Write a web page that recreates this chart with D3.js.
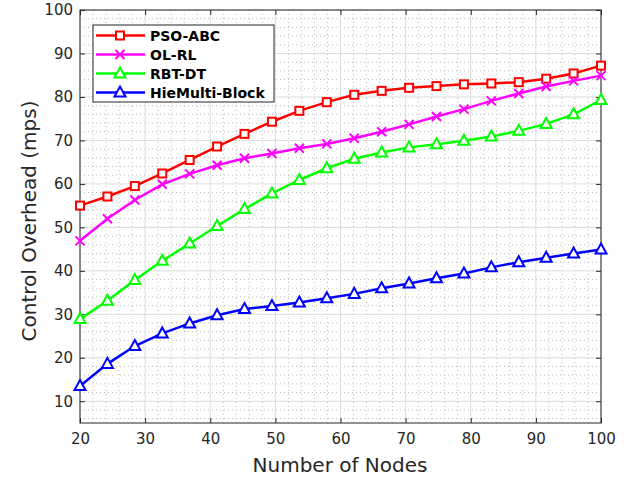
<!DOCTYPE html>
<html>
<head>
<meta charset="utf-8">
<script src="https://cdn.jsdelivr.net/npm/d3@7/dist/d3.min.js"></script>
<style>
  html, body { margin: 0; padding: 0; background: #fff; }
  svg { display: block; font-family: "DejaVu Sans", sans-serif; }
</style>
</head>
<body>
<svg id="chart" width="630" height="479"></svg>
<script>
// Number of nodes (20 evenly spaced samples from 20 to 100)
const nodes = [20, 24.21, 28.42, 32.63, 36.84, 41.05, 45.26, 49.47, 53.68, 57.89,
               62.11, 66.32, 70.53, 74.74, 78.95, 83.16, 87.37, 91.58, 95.79, 100];

// Control overhead (mps) per method
const psoAbc = [55.0, 57.1, 59.5, 62.4, 65.5, 68.6, 71.5, 74.3, 76.8, 78.8,
                80.5, 81.4, 82.1, 82.5, 82.9, 83.1, 83.4, 84.2, 85.4, 87.2];
const olRl   = [46.9, 52.0, 56.3, 59.9, 62.3, 64.3, 65.9, 67.0, 68.2, 69.2,
                70.5, 72.0, 73.7, 75.5, 77.2, 79.1, 80.8, 82.4, 83.7, 84.9];
const rbtDt  = [28.9, 33.1, 37.9, 42.3, 46.3, 50.3, 54.2, 57.8, 60.9, 63.6,
                65.8, 67.2, 68.4, 69.1, 69.9, 70.9, 72.2, 73.8, 76.0, 79.3];
const hieMultiBlock = [13.5, 18.6, 22.7, 25.6, 27.9, 29.8, 31.2, 31.9, 32.7, 33.7,
                       34.7, 36.0, 37.1, 38.3, 39.4, 40.8, 42.0, 43.0, 44.0, 44.9];

const xTicks = [20, 30, 40, 50, 60, 70, 80, 90, 100];
const yTicks = [10, 20, 30, 40, 50, 60, 70, 80, 90, 100];

const series = [
  { name: "PSO-ABC",        values: psoAbc,        color: "#ff0000", marker: "square" },
  { name: "OL-RL",          values: olRl,          color: "#ff00ff", marker: "cross" },
  { name: "RBT-DT",         values: rbtDt,         color: "#00ff00", marker: "triangle" },
  { name: "HieMulti-Block", values: hieMultiBlock, color: "#0000ff", marker: "triangle" }
];

const svg = d3.select("#chart");
const plot = { left: 80, right: 601, top: 10, bottom: 423 };
const axisColor = "#262626";

const x = d3.scaleLinear().domain([20, 100]).range([plot.left, plot.right]);
const y = d3.scaleLinear().domain([5, 100]).range([plot.bottom, plot.top]);

// Minor grid (dotted), every 2 units
const g = svg.append("g");
const minorX = d3.range(22, 100, 2).filter(v => v % 10 !== 0);
const minorY = d3.range(6, 100, 2).filter(v => v % 10 !== 0);
g.selectAll(".mx").data(minorX).enter().append("line")
  .attr("x1", d => x(d)).attr("x2", d => x(d))
  .attr("y1", plot.top).attr("y2", plot.bottom)
  .attr("stroke", "#bdbdbd").attr("stroke-width", 1).attr("stroke-dasharray", "1,3");
g.selectAll(".my").data(minorY).enter().append("line")
  .attr("x1", plot.left).attr("x2", plot.right)
  .attr("y1", d => y(d)).attr("y2", d => y(d))
  .attr("stroke", "#bdbdbd").attr("stroke-width", 1).attr("stroke-dasharray", "1,3");

// Major grid
g.selectAll(".gx").data(xTicks).enter().append("line")
  .attr("x1", d => x(d)).attr("x2", d => x(d))
  .attr("y1", plot.top).attr("y2", plot.bottom)
  .attr("stroke", "#dcdcdc").attr("stroke-width", 1);
g.selectAll(".gy").data(yTicks).enter().append("line")
  .attr("x1", plot.left).attr("x2", plot.right)
  .attr("y1", d => y(d)).attr("y2", d => y(d))
  .attr("stroke", "#dcdcdc").attr("stroke-width", 1);

// Axes with inward ticks on all four sides
const tickLen = 5;
const bottomAxis = d3.axisBottom(x).tickValues(xTicks).tickSizeInner(-tickLen).tickSizeOuter(0).tickPadding(10);
const leftAxis = d3.axisLeft(y).tickValues(yTicks).tickSizeInner(-tickLen).tickSizeOuter(0).tickPadding(7);
const topAxis = d3.axisTop(x).tickValues(xTicks).tickSizeInner(-tickLen).tickSizeOuter(0).tickFormat("");
const rightAxis = d3.axisRight(y).tickValues(yTicks).tickSizeInner(-tickLen).tickSizeOuter(0).tickFormat("");

function styleAxis(sel) {
  sel.select(".domain").remove();
  sel.selectAll("line").attr("stroke", axisColor);
  sel.selectAll("text").attr("fill", axisColor).style("font-size", "15px")
     .style("font-family", "'DejaVu Sans', sans-serif");
}
svg.append("g").attr("transform", `translate(0,${plot.bottom})`).call(bottomAxis).call(styleAxis);
svg.append("g").attr("transform", `translate(${plot.left},0)`).call(leftAxis).call(styleAxis);
svg.append("g").attr("transform", `translate(0,${plot.top})`).call(topAxis).call(styleAxis);
svg.append("g").attr("transform", `translate(${plot.right},0)`).call(rightAxis).call(styleAxis);

// Plot frame
svg.append("rect")
  .attr("x", plot.left).attr("y", plot.top)
  .attr("width", plot.right - plot.left).attr("height", plot.bottom - plot.top)
  .attr("fill", "none").attr("stroke", axisColor).attr("stroke-width", 1);

// Marker drawing
function drawMarker(sel, type, color) {
  if (type === "square") {
    sel.append("rect").attr("x", -4).attr("y", -4).attr("width", 8).attr("height", 8)
      .attr("fill", "#fff").attr("stroke", color).attr("stroke-width", 2);
  } else if (type === "cross") {
    sel.append("path").attr("d", "M-4.5,-4.5L4.5,4.5M-4.5,4.5L4.5,-4.5")
      .attr("fill", "none").attr("stroke", color).attr("stroke-width", 2);
  } else {
    sel.append("path").attr("d", "M0,-6L5.5,4L-5.5,4Z")
      .attr("fill", "#fff").attr("stroke", color).attr("stroke-width", 2)
      .attr("stroke-linejoin", "miter");
  }
}

const line = d3.line().x((d, i) => x(nodes[i])).y(d => y(d));

series.forEach(s => {
  svg.append("path").datum(s.values)
    .attr("d", line)
    .attr("fill", "none").attr("stroke", s.color).attr("stroke-width", 2.5);
  s.values.forEach((v, i) => {
    const m = svg.append("g").attr("transform", `translate(${x(nodes[i])},${y(v)})`);
    drawMarker(m, s.marker, s.color);
  });
});

// Legend
const legend = svg.append("g").attr("transform", "translate(93,25)");
legend.append("rect").attr("x", 0).attr("y", 0).attr("width", 181).attr("height", 77)
  .attr("fill", "#fff").attr("stroke", axisColor).attr("stroke-width", 1);
series.forEach((s, i) => {
  const row = legend.append("g").attr("transform", `translate(0,${10.5 + i * 19})`);
  row.append("line").attr("x1", 3).attr("x2", 52).attr("y1", 0).attr("y2", 0)
    .attr("stroke", s.color).attr("stroke-width", 2.5);
  const m = row.append("g").attr("transform", "translate(27,0)");
  drawMarker(m, s.marker, s.color);
  row.append("text").attr("x", 57).attr("y", 0).attr("dy", "0.36em")
    .attr("fill", "#000").style("font-size", "14px").style("font-weight", "bold")
    .text(s.name);
});

// Axis titles
svg.append("text")
  .attr("x", 340).attr("y", 472)
  .attr("text-anchor", "middle").attr("fill", axisColor)
  .style("font-size", "20px").text("Number of Nodes");
svg.append("text")
  .attr("transform", "translate(36,221) rotate(-90)")
  .attr("text-anchor", "middle").attr("fill", axisColor)
  .style("font-size", "20px").text("Control Overhead (mps)");
</script>
</body>
</html>
